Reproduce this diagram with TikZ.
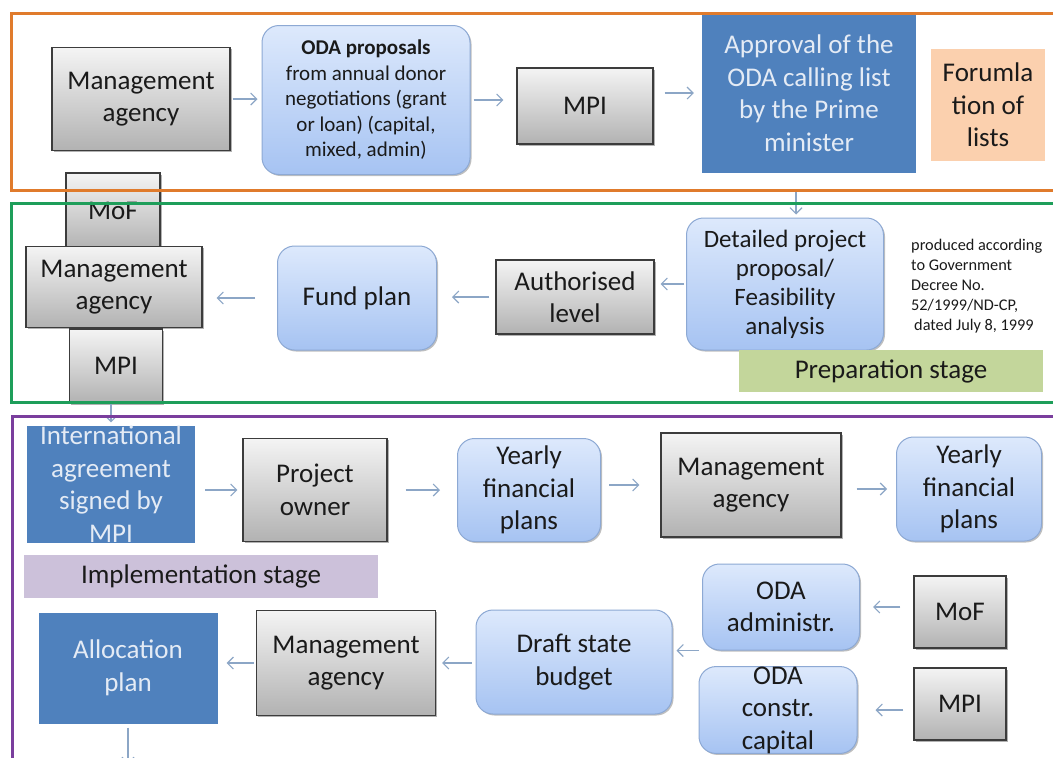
\documentclass[tikz,border=0pt]{standalone}
\usepackage{fontspec}
\setmainfont{Carlito}
\usetikzlibrary{arrows.meta,shadows}
\definecolor{orangeF}{HTML}{E07B2C}
\definecolor{greenF}{HTML}{1E9E5A}
\definecolor{purpleF}{HTML}{7A3E9D}
\definecolor{graytop}{HTML}{F4F4F4}
\definecolor{graybot}{HTML}{B2B2B2}
\definecolor{grayline}{HTML}{3C3C3C}
\definecolor{bluetop}{HTML}{DDE9FC}
\definecolor{bluebot}{HTML}{A6C3F2}
\definecolor{blueline}{HTML}{8DA9D4}
\definecolor{darkblue}{HTML}{4F81BD}
\definecolor{peach}{HTML}{FBD0AE}
\definecolor{prepgreen}{HTML}{C3D69B}
\definecolor{implpurple}{HTML}{CCC1DA}
\definecolor{arrowc}{HTML}{8CA6C6}
\definecolor{txt}{HTML}{1A1A1A}
\definecolor{lighttxt}{HTML}{E4EBF5}
\begin{document}
\begin{tikzpicture}[x=1pt,y=-1pt,
  box/.style={inner sep=0pt, align=center, font=\fontsize{27}{32.5}\selectfont, text=txt},
  sz/.style 2 args={minimum width=#1pt, minimum height=#2pt},
  graybox/.style={box, draw=grayline, line width=1.1pt, top color=graytop, bottom color=graybot,
    drop shadow={shadow xshift=1.5pt, shadow yshift=-1.5pt, opacity=0.3, fill=black}},
  bluebox/.style={box, draw=blueline, line width=1pt, rounded corners=17pt, top color=bluetop, bottom color=bluebot,
    drop shadow={shadow xshift=1.5pt, shadow yshift=-1.5pt, opacity=0.25, fill=black}},
  darkbox/.style={box, fill=darkblue, text=lighttxt},
  stagebox/.style={box, inner sep=0pt},
  arr/.style={draw=arrowc, line width=1.1pt, -{Straight Barb[length=6pt,width=12pt]}},
  framebox/.style={line width=3pt}
]
\useasboundingbox (0,0) rectangle (1053,758);
\fill[white] (0,0) rectangle (1053,758);

% ---------- top row ----------
\node[graybox, sz={178}{103}] (ma1) at (141,99) {Management\\agency};
\node[bluebox, sz={208}{149}, font=\fontsize{21}{25.5}\selectfont] (oda) at (366,100)
  {{\bfseries ODA proposals}\\from annual donor\\negotiations (grant\\or loan) (capital,\\mixed, admin)};
\node[graybox, sz={136}{76}] (mpi1) at (585,106) {MPI};
\node[darkbox, sz={214}{160}] (appr) at (809,93) {Approval of the\\ODA calling list\\by the Prime\\minister};
\node[box, fill=peach, sz={114}{112}] (form) at (988,105) {Forumla\\tion of\\lists};

% ---------- middle row ----------
\node[graybox, sz={94}{76}] (mof1) at (113,211) {MoF};
\node[graybox, sz={176}{81}] (ma2) at (114,287) {Management\\agency};
\node[graybox, sz={93}{74}] (mpi2) at (116,366) {MPI};
\node[bluebox, sz={159}{104}] (fund) at (357,298) {Fund plan};
\node[graybox, sz={158}{74}] (auth) at (575,297) {Authorised\\level};
\node[bluebox, sz={197}{132}, font=\fontsize{25}{29}\selectfont] (det) at (785,284)
  {Detailed project\\proposal/\\Feasibility\\analysis};
\node[anchor=west, align=left, inner sep=0pt, font=\fontsize{16.3}{20}\selectfont, text=txt] (note) at (911,286)
  {produced according\\to Government\\Decree No.\\52/1999/ND-CP,\\\hspace{3pt}dated July 8, 1999};
\node[stagebox, fill=prepgreen, sz={304}{42}] (prep) at (891,371) {Preparation stage};

% ---------- bottom part ----------
\node[darkbox, sz={168}{117}, text depth=0pt] (intl) at (111,484) {International\\agreement\\signed by\\MPI};
\node[graybox, sz={144}{103}] (po) at (315,490) {Project\\owner};
\node[bluebox, sz={143}{103}] (yf1) at (529,490) {Yearly\\financial\\plans};
\node[graybox, sz={180}{104}] (ma3) at (751,485) {Management\\agency};
\node[bluebox, sz={145}{104}] (yf2) at (969,489) {Yearly\\financial\\plans};
\node[stagebox, fill=implpurple, sz={354}{43}] (impl) at (201,576) {Implementation stage};
\node[darkbox, sz={179}{111}] (alloc) at (128,668) {Allocation\\plan};
\node[graybox, sz={179}{105}] (ma4) at (346,663) {Management\\agency};
\node[bluebox, sz={196}{104}] (draft) at (574,662) {Draft state\\budget};
\node[bluebox, sz={157}{86}] (odaa) at (781,607) {ODA\\administr.};
\node[bluebox, sz={158}{86}] (odac) at (778,710) {ODA\\constr.\\capital};
\node[graybox, sz={92}{72}] (mof2) at (960,612) {MoF};
\node[graybox, sz={92}{72}] (mpi3) at (960,704) {MPI};
\coordinate (allocend) at (128,764);

% ---------- connectors ----------
\draw[arr, shorten <=2pt, shorten >=4pt] (ma1.east) -- (ma1.east -| oda.west);
\draw[arr, shorten <=3pt, shorten >=13pt] (oda.east) -- (oda.east -| mpi1.west);
\draw[arr, shorten <=11pt, shorten >=8pt] (mpi1.east |- appr.west) -- (appr.west);
\draw[arr, shorten <=17pt, shorten >=3pt] ([xshift=11pt]appr.south -| det.north) -- ([xshift=11pt]det.north);
\draw[arr, shorten <=2pt, shorten >=6pt] (det.west) -- (det.west -| auth.east);
\draw[arr, shorten <=6pt, shorten >=15pt] (auth.west) -- (auth.west -| fund.east);
\draw[arr, shorten <=22pt, shorten >=14pt] (fund.west) -- (fund.west -| ma2.east);
\draw[arr, shorten <=0pt, shorten >=3pt] (mpi2.south -| intl.north) -- (intl.north);
\draw[arr, shorten <=10pt, shorten >=5pt] (intl.east |- po.west) -- (po.west);
\draw[arr, shorten <=18pt, shorten >=17pt] (po.east) -- (yf1.west);
\draw[arr, shorten <=8pt, shorten >=21pt] (yf1.east |- ma3.west) -- (ma3.west);
\draw[arr, shorten <=15pt, shorten >=9pt] (ma3.east |- yf2.west) -- (yf2.west);
\draw[arr, shorten <=13pt, shorten >=13pt] (mof2.west |- odaa.east) -- (odaa.east);
\draw[arr, shorten <=10pt, shorten >=18pt] (mpi3.west |- odac.east) -- (odac.east);
\draw[arr, shorten <=3pt, shorten >=4pt] (odaa.south west) -- (odaa.south west -| draft.east);
\draw[arr, shorten <=4pt, shorten >=6pt] (draft.west |- ma4.east) -- (ma4.east);
\draw[arr, shorten <=2pt, shorten >=9pt] (ma4.west) -- (ma4.west -| alloc.east);
\draw[arr, shorten <=4pt] (alloc.south) -- (allocend);

% ---------- stage frames ----------
\draw[framebox, draw=orangeF] (11,13) rectangle (1068,190);
\draw[framebox, draw=greenF] (11,203) rectangle (1068,402);
\draw[framebox, draw=purpleF] (12,416) rectangle (1068,780);
\end{tikzpicture}
\end{document}
